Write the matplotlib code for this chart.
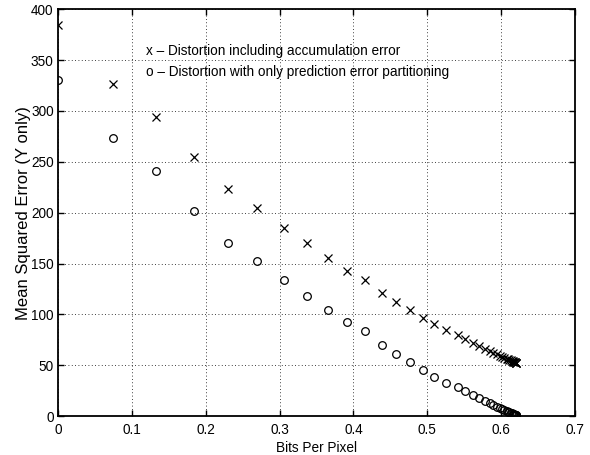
import matplotlib
matplotlib.use("Agg")
import matplotlib.pyplot as plt

plt.rcParams["font.family"] = ["Liberation Sans", "DejaVu Sans"]

# bits per pixel (shared by both series)
bpp = [0.0, 0.0744, 0.133, 0.184, 0.2305, 0.2697, 0.3055, 0.3365, 0.366,
       0.391, 0.415, 0.438, 0.457, 0.476, 0.4935, 0.509, 0.525, 0.541,
       0.551, 0.561, 0.570, 0.5775, 0.584, 0.589, 0.594, 0.598, 0.601,
       0.604, 0.607, 0.609, 0.611, 0.6125, 0.614, 0.6152, 0.6163, 0.6172,
       0.618, 0.6187, 0.6193, 0.6198, 0.6202]

# distortion including accumulation error
mse_accum = [385, 327, 294, 255, 223.3, 205, 184.6, 169.9, 155, 142.6,
             133.8, 120.7, 112.1, 104, 96.4, 90.2, 84.6, 79.7, 75.7, 72.1,
             68.8, 66.3, 64.0, 62.2, 60.6, 59.3, 58.2, 57.3, 56.5, 55.8,
             55.2, 54.7, 54.2, 53.8, 53.5, 53.2, 53.0, 52.8, 52.6, 52.5, 52.4]

# distortion with only prediction error partitioning
mse_pred = [330, 273, 241, 202, 169.9, 152.8, 133.8, 118.3, 104.3, 92.5,
            83.3, 70.3, 61.3, 53.1, 45.2, 38.7, 32.8, 28.2, 24.6, 20.5,
            17.3, 14.7, 12.5, 10.8, 9.2, 7.9, 6.9, 5.9, 4.9, 4.3, 3.6, 3.1,
            2.6, 2.2, 1.9, 1.6, 1.3, 1.1, 0.9, 0.7, 0.6]

fig = plt.figure(figsize=(5.9, 4.55), dpi=100)
ax = fig.add_axes([0.098, 0.0857, 0.877, 0.8938])

ax.plot(bpp, mse_accum, linestyle="none", marker="x", color="black",
        markersize=5.5, markeredgewidth=0.9)
ax.plot(bpp, mse_pred, linestyle="none", marker="o", color="black",
        markerfacecolor="none", markersize=5.5, markeredgewidth=0.9)

ax.text(0.119, 359.5, "x \u2013 Distortion including accumulation error",
        fontsize=9.8, va="center", ha="left")
ax.text(0.119, 338, "o \u2013 Distortion with only prediction error partitioning",
        fontsize=9.8, va="center", ha="left")

ax.set_xlim(0, 0.7)
ax.set_ylim(0, 400)
ax.set_xticks([0, 0.1, 0.2, 0.3, 0.4, 0.5, 0.6, 0.7])
ax.set_xticklabels(["0", "0.1", "0.2", "0.3", "0.4", "0.5", "0.6", "0.7"])
ax.set_yticks(range(0, 401, 50))
ax.set_xlabel("Bits Per Pixel", fontsize=9.8, labelpad=3)
ax.set_ylabel("Mean Squared Error (Y only)", fontsize=12, labelpad=0)
ax.tick_params(direction="in", top=True, right=True, labelsize=9.8, length=4,
               width=1)
ax.tick_params(axis="x", pad=5)
ax.tick_params(axis="y", pad=3)
ax.grid(True, color="black", linestyle=(0, (1, 3)), linewidth=0.6)
for s in ax.spines.values():
    s.set_linewidth(1.3)

fig.savefig("out.png")
